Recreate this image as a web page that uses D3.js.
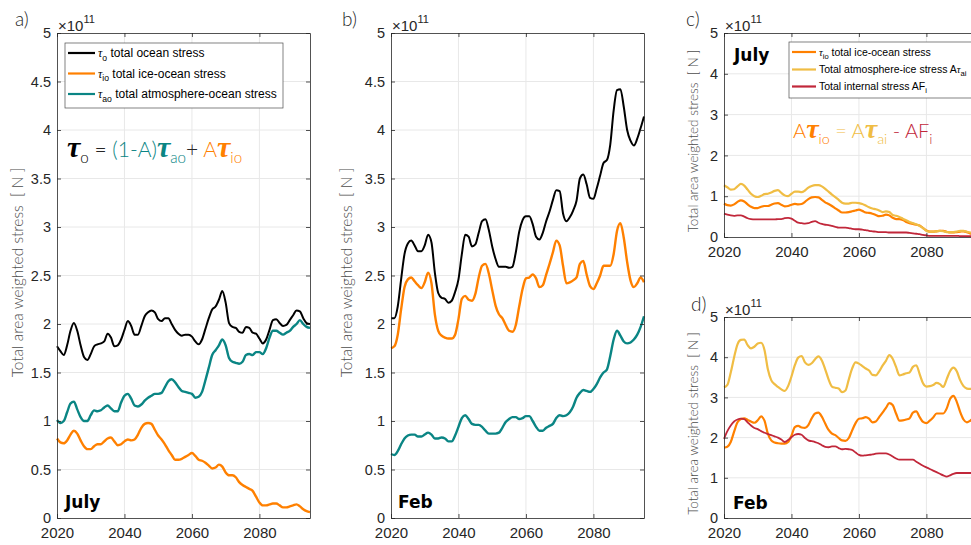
<!DOCTYPE html>
<html>
<head>
<meta charset="utf-8">
<script src="https://cdn.jsdelivr.net/npm/d3@7"></script>
<style>
body { margin: 0; background: #fff; }
svg { display: block; font-family: "Liberation Sans", Arial, sans-serif; }
.light { font-family: "Lato", "Open Sans", sans-serif; font-weight: 300; }
.tau { font-family: "Liberation Serif", serif; font-style: italic; }
</style>
</head>
<body>
<svg id="chart" width="971" height="545"></svg>
<script>
// years 2020..2095, one value per year, units of 1e11 N
var years = [2020,2021,2022,2023,2024,2025,2026,2027,2028,2029,
             2030,2031,2032,2033,2034,2035,2036,2037,2038,2039,
             2040,2041,2042,2043,2044,2045,2046,2047,2048,2049,
             2050,2051,2052,2053,2054,2055,2056,2057,2058,2059,
             2060,2061,2062,2063,2064,2065,2066,2067,2068,2069,
             2070,2071,2072,2073,2074,2075,2076,2077,2078,2079,
             2080,2081,2082,2083,2084,2085,2086,2087,2088,2089,
             2090,2091,2092,2093,2094,2095];

var xTicks = [2020, 2040, 2060, 2080];
var yTicksAB = [0, 0.5, 1, 1.5, 2, 2.5, 3, 3.5, 4, 4.5, 5];
var yTicksCD = [0, 1, 2, 3, 4, 5];

// July
var julOcean = [1.77,1.72,1.68,1.78,1.93,2.01,1.93,1.78,1.66,1.63,
                1.69,1.77,1.79,1.80,1.82,1.90,1.86,1.77,1.78,1.84,
                1.94,2.03,1.98,1.89,1.89,1.98,2.08,2.12,2.14,2.12,
                2.05,2.03,2.06,2.06,2.00,1.94,1.90,1.88,1.89,1.89,
                1.87,1.82,1.79,1.84,1.95,2.06,2.15,2.18,2.25,2.34,
                2.22,2.01,1.97,1.96,1.92,1.91,1.97,1.96,1.91,1.90,
                1.85,1.80,1.84,1.94,2.04,2.05,2.01,1.98,1.99,2.04,
                2.09,2.14,2.13,2.06,2.01,2.00];
var julIceOcean = [0.82,0.78,0.77,0.80,0.86,0.90,0.87,0.80,0.74,0.71,
                   0.71,0.74,0.76,0.76,0.79,0.82,0.83,0.79,0.75,0.76,
                   0.79,0.81,0.80,0.81,0.86,0.93,0.97,0.98,0.97,0.91,
                   0.85,0.81,0.76,0.70,0.65,0.60,0.60,0.61,0.63,0.65,
                   0.67,0.64,0.60,0.59,0.57,0.54,0.51,0.52,0.55,0.53,
                   0.47,0.44,0.44,0.42,0.37,0.34,0.32,0.30,0.28,0.22,
                   0.16,0.13,0.13,0.14,0.15,0.15,0.13,0.11,0.11,0.12,
                   0.13,0.14,0.12,0.09,0.07,0.06];
var julAtmOcean = [1.01,0.98,1.00,1.09,1.18,1.20,1.12,1.04,1.00,1.00,
                   1.06,1.11,1.10,1.11,1.14,1.16,1.13,1.10,1.10,1.19,
                   1.26,1.28,1.23,1.16,1.15,1.17,1.21,1.24,1.26,1.28,
                   1.28,1.29,1.35,1.41,1.43,1.40,1.35,1.31,1.30,1.29,
                   1.28,1.24,1.25,1.30,1.42,1.55,1.68,1.73,1.78,1.84,
                   1.78,1.65,1.61,1.60,1.59,1.61,1.68,1.69,1.68,1.71,
                   1.71,1.69,1.75,1.86,1.93,1.93,1.91,1.89,1.91,1.93,
                   1.97,2.00,2.04,2.00,1.97,1.96];
var julAtmIce = [1.27,1.22,1.16,1.17,1.24,1.30,1.26,1.16,1.06,1.00,
                 0.98,1.01,1.05,1.06,1.09,1.13,1.15,1.08,1.02,1.00,
                 1.06,1.11,1.11,1.10,1.14,1.21,1.25,1.27,1.27,1.24,
                 1.18,1.11,1.04,0.98,0.91,0.84,0.82,0.82,0.84,0.84,
                 0.83,0.81,0.77,0.73,0.70,0.68,0.65,0.61,0.63,0.61,
                 0.54,0.52,0.49,0.45,0.41,0.37,0.34,0.31,0.27,0.22,
                 0.15,0.13,0.13,0.14,0.15,0.14,0.12,0.12,0.12,0.13,
                 0.15,0.15,0.13,0.11,0.10,0.09];
var julInternal = [0.57,0.55,0.53,0.52,0.53,0.53,0.50,0.46,0.44,0.43,
                   0.43,0.43,0.43,0.43,0.43,0.43,0.44,0.44,0.46,0.47,
                   0.45,0.40,0.35,0.34,0.33,0.34,0.37,0.39,0.35,0.32,
                   0.30,0.29,0.27,0.25,0.23,0.23,0.23,0.22,0.20,0.19,
                   0.19,0.18,0.17,0.15,0.14,0.13,0.12,0.12,0.12,0.11,
                   0.11,0.11,0.11,0.11,0.11,0.10,0.09,0.08,0.07,0.05,
                   0.04,0.03,0.03,0.03,0.03,0.03,0.03,0.03,0.03,0.03,
                   0.02,0.02,0.02,0.02,0.02,0.02];

// February
var febOcean = [2.06,2.06,2.18,2.46,2.72,2.83,2.86,2.81,2.75,2.75,
                2.81,2.92,2.84,2.53,2.32,2.27,2.26,2.22,2.24,2.33,
                2.46,2.72,2.92,2.90,2.80,2.82,2.94,3.06,3.08,2.97,
                2.80,2.67,2.59,2.59,2.59,2.58,2.59,2.74,2.95,3.07,
                3.11,3.11,3.03,2.90,2.87,2.94,3.06,3.16,3.28,3.38,
                3.37,3.14,3.06,3.10,3.17,3.27,3.50,3.54,3.44,3.30,
                3.29,3.40,3.53,3.66,3.69,3.85,4.20,4.41,4.42,4.24,
                4.00,3.89,3.84,3.91,4.02,4.14];
var febIceOcean = [1.75,1.77,1.89,2.15,2.38,2.46,2.48,2.44,2.40,2.37,
                   2.43,2.53,2.42,2.10,1.93,1.88,1.86,1.85,1.85,1.89,
                   2.05,2.26,2.29,2.25,2.24,2.31,2.48,2.60,2.62,2.52,
                   2.35,2.19,2.10,2.06,1.99,1.93,1.92,1.99,2.18,2.36,
                   2.47,2.48,2.51,2.47,2.38,2.40,2.51,2.62,2.74,2.86,
                   2.81,2.60,2.42,2.43,2.45,2.48,2.62,2.65,2.51,2.39,
                   2.36,2.42,2.50,2.60,2.60,2.60,2.72,2.96,3.04,2.89,
                   2.64,2.45,2.38,2.42,2.48,2.43];
var febAtmOcean = [0.66,0.65,0.69,0.76,0.82,0.85,0.86,0.86,0.84,0.84,
                   0.86,0.88,0.86,0.82,0.82,0.83,0.82,0.79,0.79,0.85,
                   0.94,1.03,1.06,1.02,0.97,0.96,0.96,0.94,0.90,0.87,
                   0.87,0.87,0.88,0.93,0.99,1.02,1.04,1.04,1.02,1.03,
                   1.05,1.05,1.00,0.94,0.90,0.90,0.93,0.95,0.97,1.03,
                   1.06,1.05,1.06,1.09,1.15,1.24,1.29,1.32,1.31,1.30,
                   1.33,1.38,1.45,1.50,1.53,1.67,1.84,1.93,1.88,1.82,
                   1.80,1.81,1.84,1.89,1.97,2.08];
var febAtmIce = [3.25,3.31,3.62,4.00,4.32,4.43,4.44,4.30,4.22,4.26,
                 4.34,4.36,4.18,3.70,3.43,3.33,3.26,3.20,3.16,3.28,
                 3.52,3.80,3.99,4.03,3.87,3.81,3.85,3.95,4.02,3.92,
                 3.70,3.45,3.27,3.24,3.22,3.13,3.17,3.45,3.72,3.87,
                 3.84,3.78,3.72,3.67,3.56,3.55,3.65,3.79,3.91,4.05,
                 3.96,3.76,3.55,3.57,3.60,3.62,3.76,3.80,3.58,3.35,
                 3.27,3.28,3.31,3.36,3.33,3.26,3.45,3.65,3.74,3.65,
                 3.43,3.28,3.22,3.21,3.21,3.22];
var febInternal = [1.97,2.16,2.30,2.40,2.45,2.47,2.46,2.38,2.30,2.24,
                   2.21,2.16,2.12,2.09,2.06,2.03,2.00,1.95,1.89,1.94,
                   2.01,2.07,2.09,2.07,1.99,1.93,1.91,1.89,1.86,1.81,
                   1.77,1.76,1.78,1.78,1.74,1.71,1.72,1.71,1.69,1.63,
                   1.57,1.55,1.56,1.57,1.58,1.60,1.61,1.61,1.61,1.58,
                   1.53,1.48,1.45,1.45,1.45,1.45,1.45,1.40,1.35,1.30,
                   1.26,1.22,1.18,1.14,1.10,1.06,1.03,1.06,1.10,1.12,
                   1.12,1.12,1.12,1.12,1.12,1.12];

var BLACK = "#000000", ORANGE = "#ff8000", TEAL = "#0a8584",
    YELLOW = "#f0bd44", RED = "#c1273a", AXIS = "#262626";

var svg = d3.select("#chart");

function drawPanel(p) {
    var x = d3.scaleLinear().domain([2020, 2095]).range([p.left, p.right]);
    var y = d3.scaleLinear().domain([0, 5]).range([p.bottom, p.top]);
    var g = svg.append("g");

    // grid
    g.selectAll(".gx").data(xTicks.slice(1)).enter().append("line")
        .attr("x1", function(d) { return x(d); })
        .attr("x2", function(d) { return x(d); })
        .attr("y1", p.top).attr("y2", p.bottom)
        .attr("stroke", "#e8e8e8").attr("stroke-width", 1);
    g.selectAll(".gy").data(p.yTicks.slice(1, -1)).enter().append("line")
        .attr("x1", p.left).attr("x2", p.right)
        .attr("y1", function(d) { return y(d); })
        .attr("y2", function(d) { return y(d); })
        .attr("stroke", "#e8e8e8").attr("stroke-width", 1);

    var line = d3.line()
        .x(function(d, i) { return x(years[i]); })
        .y(function(d) { return y(d); })
        .curve(d3.curveMonotoneX);

    p.series.forEach(function(s) {
        g.append("path")
            .datum(s.values)
            .attr("d", line)
            .attr("fill", "none")
            .attr("stroke", s.color)
            .attr("stroke-width", s.width)
            .attr("stroke-linejoin", "round");
    });

    // box with inward ticks on all four sides
    var axes = [
        [d3.axisLeft(y).tickValues(p.yTicks).tickFormat(function(d) { return d; }), p.left, 0],
        [d3.axisRight(y).tickValues(p.yTicks).tickFormat(""), p.right, 0],
        [d3.axisBottom(x).tickValues(xTicks).tickFormat(d3.format("d")), 0, p.bottom],
        [d3.axisTop(x).tickValues(xTicks).tickFormat(""), 0, p.top]
    ];
    axes.forEach(function(a, i) {
        var ag = g.append("g")
            .attr("transform", "translate(" + a[1] + "," + a[2] + ")")
            .call(a[0].tickSize(-4).tickSizeOuter(0).tickPadding(i == 2 ? 9 : 6));
        ag.select(".domain").attr("stroke", AXIS).attr("stroke-width", 0.8);
        ag.selectAll(".tick line").attr("stroke", AXIS).attr("stroke-width", 0.8);
        ag.selectAll(".tick text")
            .attr("fill", AXIS)
            .attr("font-family", "Liberation Sans, Arial, sans-serif")
            .attr("font-size", i == 2 ? 15 : 14.5);
    });

    // x10^11
    var ex = g.append("text").attr("x", p.left + 1).attr("y", p.top - 2)
        .attr("fill", AXIS).attr("font-size", 15);
    ex.append("tspan").text("\u00d710");
    ex.append("tspan").attr("font-size", 11).attr("dy", -8).text("11");

    // panel letter
    g.append("text").attr("class", "light")
        .attr("x", p.letterX).attr("y", p.letterY)
        .attr("font-size", 19).attr("fill", AXIS)
        .text(p.letter);

    // y label
    var cy = (p.top + p.bottom) / 2 + p.labelShift;
    g.append("text").attr("class", "light")
        .attr("transform", "translate(" + p.labelX + "," + cy + ") rotate(-90)")
        .attr("text-anchor", "middle")
        .attr("font-size", p.labelSize)
        .attr("fill", "#4d4d4d")
        .attr("xml:space", "preserve")
        .text("Total area weighted stress  [ N ]");

    // month tag
    g.append("text")
        .attr("x", p.monthX).attr("y", p.monthY)
        .attr("font-family", "DejaVu Sans, sans-serif")
        .attr("font-weight", "bold").attr("font-size", 17)
        .attr("fill", "#000")
        .text(p.month);

    return g;
}

// add a run of text pieces: [text, color, kind] kind: n normal, t tau, s subscript
function richText(parent, x, y, size, parts) {
    var t = parent.append("text").attr("x", x).attr("y", y).attr("font-size", size)
        .attr("xml:space", "preserve");
    var shifted = false;
    parts.forEach(function(p) {
        var s = t.append("tspan").attr("fill", p[1]).text(p[0]);
        if (p[2] == "s") {
            s.attr("font-size", size * 0.72).attr("dy", shifted ? 0 : size * 0.3);
            shifted = true;
        } else {
            if (shifted) s.attr("dy", -size * 0.3);
            shifted = false;
        }
        if (p[2] == "t") s.attr("class", "tau");
    });
    return t;
}

function legend(g, x, y, w, h, rows, size, lineLen) {
    g.append("rect").attr("x", x).attr("y", y).attr("width", w).attr("height", h)
        .attr("fill", "#fff").attr("stroke", "#4d4d4d").attr("stroke-width", 0.7);
    rows.forEach(function(r) {
        g.append("line").attr("x1", x + 3).attr("x2", x + 3 + lineLen)
            .attr("y1", r.y).attr("y2", r.y)
            .attr("stroke", r.color).attr("stroke-width", 2.2);
        richText(g, x + lineLen + 6, r.y + size * 0.35, size, r.parts);
    });
}

var ga = drawPanel({
    left: 57, right: 310, top: 33, bottom: 518, yTicks: yTicksAB,
    letter: "a)", letterX: 15, letterY: 26,
    labelX: 23, labelShift: -3, labelSize: 15.5,
    month: "July", monthX: 65, monthY: 508,
    series: [
        {values: julOcean, color: BLACK, width: 2},
        {values: julIceOcean, color: ORANGE, width: 2.4},
        {values: julAtmOcean, color: TEAL, width: 2.4}
    ]
});

var gb = drawPanel({
    left: 391, right: 644, top: 33, bottom: 518, yTicks: yTicksAB,
    letter: "b)", letterX: 342, letterY: 26,
    labelX: 352, labelShift: -3, labelSize: 15.5,
    month: "Feb", monthX: 398, monthY: 508,
    series: [
        {values: febOcean, color: BLACK, width: 2},
        {values: febIceOcean, color: ORANGE, width: 2.4},
        {values: febAtmOcean, color: TEAL, width: 2.4}
    ]
});

var gc = drawPanel({
    left: 724, right: 977, top: 33, bottom: 237, yTicks: yTicksCD,
    letter: "c)", letterX: 686, letterY: 26,
    labelX: 698, labelShift: 6, labelSize: 13.5,
    month: "July", monthX: 734, monthY: 61,
    series: [
        {values: julIceOcean, color: ORANGE, width: 2.2},
        {values: julAtmIce, color: YELLOW, width: 2.2},
        {values: julInternal, color: RED, width: 1.8}
    ]
});

var gd = drawPanel({
    left: 724, right: 977, top: 317, bottom: 518, yTicks: yTicksCD,
    letter: "d)", letterX: 691, letterY: 311,
    labelX: 698, labelShift: 6, labelSize: 13.5,
    month: "Feb", monthX: 733, monthY: 509,
    series: [
        {values: febIceOcean, color: ORANGE, width: 2.2},
        {values: febAtmIce, color: YELLOW, width: 2.2},
        {values: febInternal, color: RED, width: 1.8}
    ]
});

legend(ga, 65, 43, 218, 65, [
    {y: 53, color: BLACK, parts: [["\u03c4", "#000", "t"], ["o", "#000", "s"], [" total ocean stress", "#000", "n"]]},
    {y: 73.5, color: ORANGE, parts: [["\u03c4", "#000", "t"], ["io", "#000", "s"], [" total ice-ocean stress", "#000", "n"]]},
    {y: 94, color: TEAL, parts: [["\u03c4", "#000", "t"], ["ao", "#000", "s"], [" total atmosphere-ocean stress", "#000", "n"]]}
], 12, 27);

legend(gc, 789, 42, 186, 56, [
    {y: 52, color: ORANGE, parts: [["\u03c4", "#000", "t"], ["io", "#000", "s"], [" total ice-ocean stress", "#000", "n"]]},
    {y: 69.5, color: YELLOW, parts: [["Total atmosphere-ice stress A", "#000", "n"], ["\u03c4", "#000", "t"], ["ai", "#000", "s"]]},
    {y: 86.5, color: RED, parts: [["Total internal stress AF", "#000", "n"], ["i", "#000", "s"]]}
], 10.5, 24);

// balance equations
richText(ga, 67, 157, 21, [
    ["\u03c4", BLACK, "t"], ["o", BLACK, "s"], [" = ", "#262626", "n"],
    ["(1-A)", TEAL, "n"], ["\u03c4", TEAL, "t"], ["ao", TEAL, "s"],
    ["+ ", "#262626", "n"], ["A", ORANGE, "n"], ["\u03c4", ORANGE, "t"], ["io", ORANGE, "s"]
]).attr("class", "light").selectAll(".tau").attr("font-size", 30).attr("font-weight", "bold");

richText(gc, 793, 138, 20, [
    ["A", ORANGE, "n"], ["\u03c4", ORANGE, "t"], ["io", ORANGE, "s"],
    [" = A", YELLOW, "n"], ["\u03c4", YELLOW, "t"], ["ai", YELLOW, "s"],
    [" - AF", RED, "n"], ["i", RED, "s"]
]).attr("class", "light").selectAll(".tau").attr("font-size", 28).attr("font-weight", "bold");
</script>
</body>
</html>
